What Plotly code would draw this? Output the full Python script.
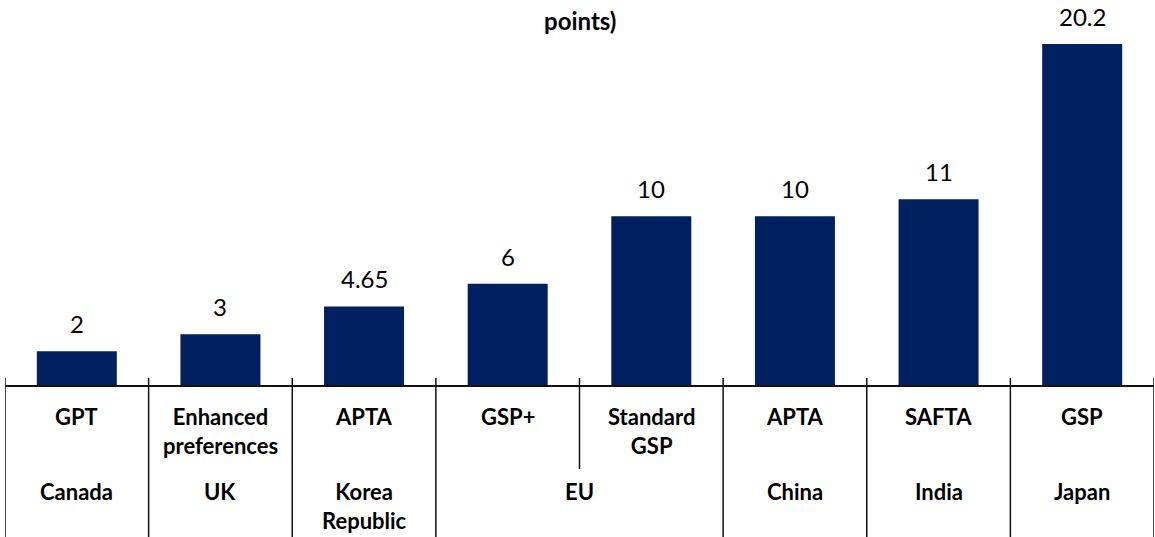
import plotly.graph_objects as go

schemes = ["GPT", "Enhanced<br>preferences", "APTA", "GSP+", "Standard<br>GSP", "APTA", "SAFTA", "GSP"]
countries = ["Canada", "UK", "Korea<br>Republic", "EU", "EU", "China", "India", "Japan"]
margins = [2, 3, 4.65, 6, 10, 10, 11, 20.2]
value_labels = ["2", "3", "4.65", "6", "10", "10", "11", "20.2"]
title_text = "points)"

BAR = "#002060"
LINE = "#111111"
TEXT = "#000000"
FONT = "Lato"
PLOT_H = 385.0

xs = list(range(len(margins)))

fig = go.Figure()
fig.add_trace(go.Bar(x=xs, y=margins, marker=dict(color=BAR, line=dict(width=0)),
                     width=0.557, hoverinfo="skip"))

annotations = []
for x, v, t in zip(xs, margins, value_labels):
    annotations.append(dict(x=x, y=v, xref="x", yref="y", text=t, showarrow=False,
                            yanchor="bottom", yshift=11,
                            font=dict(family=FONT, size=24, color=TEXT)))
for x, s in zip(xs, schemes):
    annotations.append(dict(x=x, y=0, xref="x", yref="y", text=s, showarrow=False,
                            yanchor="top", yshift=-16,
                            font=dict(family=FONT, size=22, color=TEXT, weight="bold")))

# country groups
groups = []
for i, c in enumerate(countries):
    if groups and groups[-1][0] == c:
        groups[-1][2] = i
    else:
        groups.append([c, i, i])
for c, a, b in groups:
    annotations.append(dict(x=(a + b) / 2, y=0, xref="x", yref="y", text=c, showarrow=False,
                            yanchor="top", yshift=-91,
                            font=dict(family=FONT, size=22, color=TEXT, weight="bold")))

annotations.append(dict(x=0.5, y=1, xref="paper", yref="paper", text=title_text,
                        showarrow=False, yanchor="middle", yshift=-20,
                        font=dict(family=FONT, size=24, color=TEXT, weight="bold")))

shapes = []
bounds = [groups[0][1] - 0.5] + [g[2] + 0.5 for g in groups]
for b in bounds:
    shapes.append(dict(type="line", xref="x", yref="paper", x0=b, x1=b,
                       y0=7 / PLOT_H, y1=-160 / PLOT_H, line=dict(color=LINE, width=1.5)))
for c, a, b in groups:
    for k in range(a, b):
        shapes.append(dict(type="line", xref="x", yref="paper", x0=k + 0.5, x1=k + 0.5,
                           y0=7 / PLOT_H, y1=-84 / PLOT_H, line=dict(color=LINE, width=1.5)))

fig.update_layout(
    width=1155, height=537,
    margin=dict(l=5, r=1, t=0, b=152),
    plot_bgcolor="white", paper_bgcolor="white",
    showlegend=False,
    xaxis=dict(range=[-0.5, len(margins) - 0.5], showticklabels=False, ticks="",
               showgrid=False, zeroline=False, showline=True, linecolor=LINE, linewidth=1.5),
    yaxis=dict(range=[0, 22.8], visible=False, showgrid=False, zeroline=False),
    annotations=annotations,
    shapes=shapes,
)

fig.write_html("out.html")
